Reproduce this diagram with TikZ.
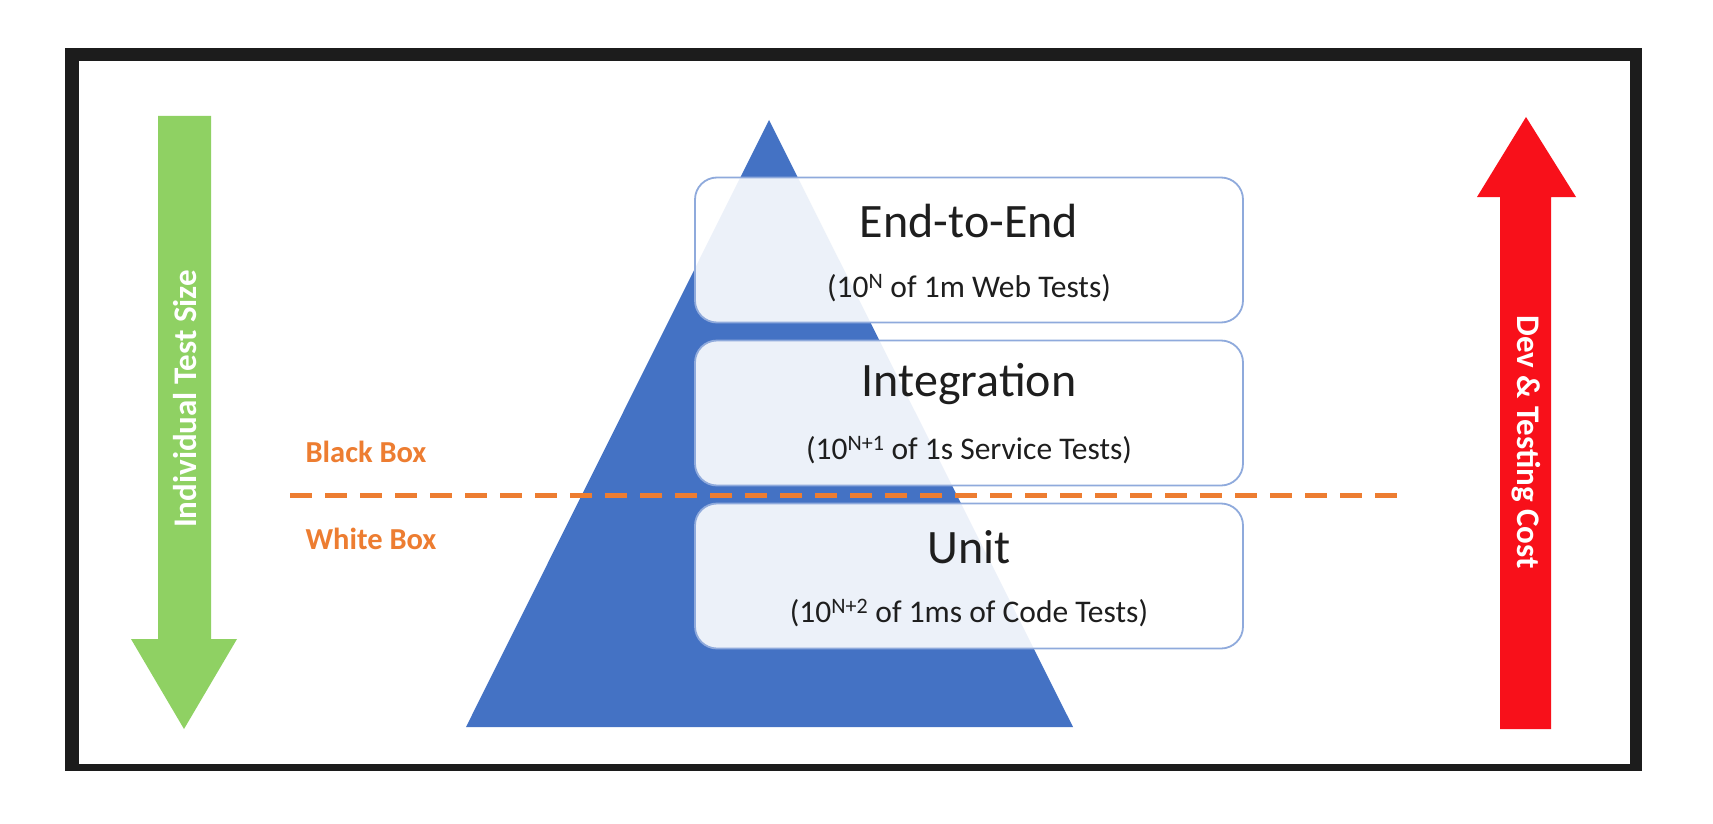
\documentclass[tikz,border=0pt]{standalone}
\usepackage{fontspec}
\setmainfont{Carlito}
\usetikzlibrary{positioning}

\definecolor{pyramidblue}{HTML}{4472C4}
\definecolor{boxline}{HTML}{8FAADC}
\definecolor{boxorange}{HTML}{ED7D31}
\definecolor{sizegreen}{HTML}{8FD163}
\definecolor{costred}{HTML}{F8101A}
\definecolor{frameblack}{HTML}{1C1C1C}
\definecolor{textgray}{HTML}{1E1E1E}

\tikzset{
	testbox/.style={draw=boxline, line width=1.8pt, fill=white, fill opacity=0.9, text opacity=1,
		rounded corners=22pt, minimum width=548pt, minimum height=145pt, inner sep=0pt},
	boxtitle/.style={font=\fontsize{48}{56}\selectfont, text=textgray},
	boxsub/.style={font=\fontsize{31.5}{38}\selectfont, text=textgray},
	sidelabel/.style={font=\bfseries\fontsize{30.5}{36}\selectfont, text=boxorange},
	arrowlabel/.style={font=\bfseries\fontsize{33}{40}\selectfont, text=white}
}

\begin{document}
\begin{tikzpicture}[x=1pt,y=-1pt]
		\useasboundingbox (0,0) rectangle (1713,824);
		
		%Frame
		\fill[frameblack] (65,48) rectangle (1642,771);
		\fill[white] (79,61) rectangle (1630,764);
		
		%Pyramid
		\fill[pyramidblue] (769,120) coordinate (apex) -- (1073,727) coordinate (baseR) 
		-- (466,727) coordinate (baseL) -- cycle;
		
		%Black box / white box border
		\coordinate (dashL) at (290,495);
		\coordinate (dashR) at (1402,495);
		\draw[boxorange, line width=5pt, dash pattern=on 22pt off 13pt] (dashL) -- (dashR);
		\node[sidelabel] (blackbox) at (366,452) {Black Box};
		\node[sidelabel] (whitebox) at (371,539) {White Box};
		
		%Test levels
		\node[testbox] (e2e) at (969,250) {};
		\node[boxtitle] (e2etitle) at ([yshift=29pt]e2e.center) {End-to-End};
		\node[boxsub] (e2esub) at ([yshift=-38pt]e2e.center) {(10\textsuperscript{N} of 1m Web Tests)};
		
		\node[testbox] (integ) at (969,413) {};
		\node[boxtitle] (integtitle) at ([yshift=29pt]integ.center) {Integration};
		\node[boxsub] (integsub) at ([yshift=-37pt]integ.center) {(10\textsuperscript{N+1} of 1s Service Tests)};
		
		\node[testbox] (unit) at (969,576) {};
		\node[boxtitle] (unittitle) at ([yshift=29pt]unit.center) {Unit};
		\node[boxsub] (unitsub) at ([yshift=-37pt]unit.center) {(10\textsuperscript{N+2} of 1ms of Code Tests)};
		
		%Individual test size
		\fill[sizegreen] (158,116) -- (211,116) -- (211,639) -- (237,639) -- (184,729) 
		-- (131,639) -- (158,639) -- cycle;
		\node[arrowlabel, rotate=90] (sizelabel) at (185,399) {Individual Test Size};
		
		%Dev and testing cost
		\fill[costred] (1500,729) -- (1551,729) -- (1551,197) -- (1576,197) -- (1526,117) 
		-- (1477,197) -- (1500,197) -- cycle;
		\node[arrowlabel, rotate=-90] (costlabel) at (1526,442) {Dev \& Testing Cost};
		
\end{tikzpicture}
\end{document}
